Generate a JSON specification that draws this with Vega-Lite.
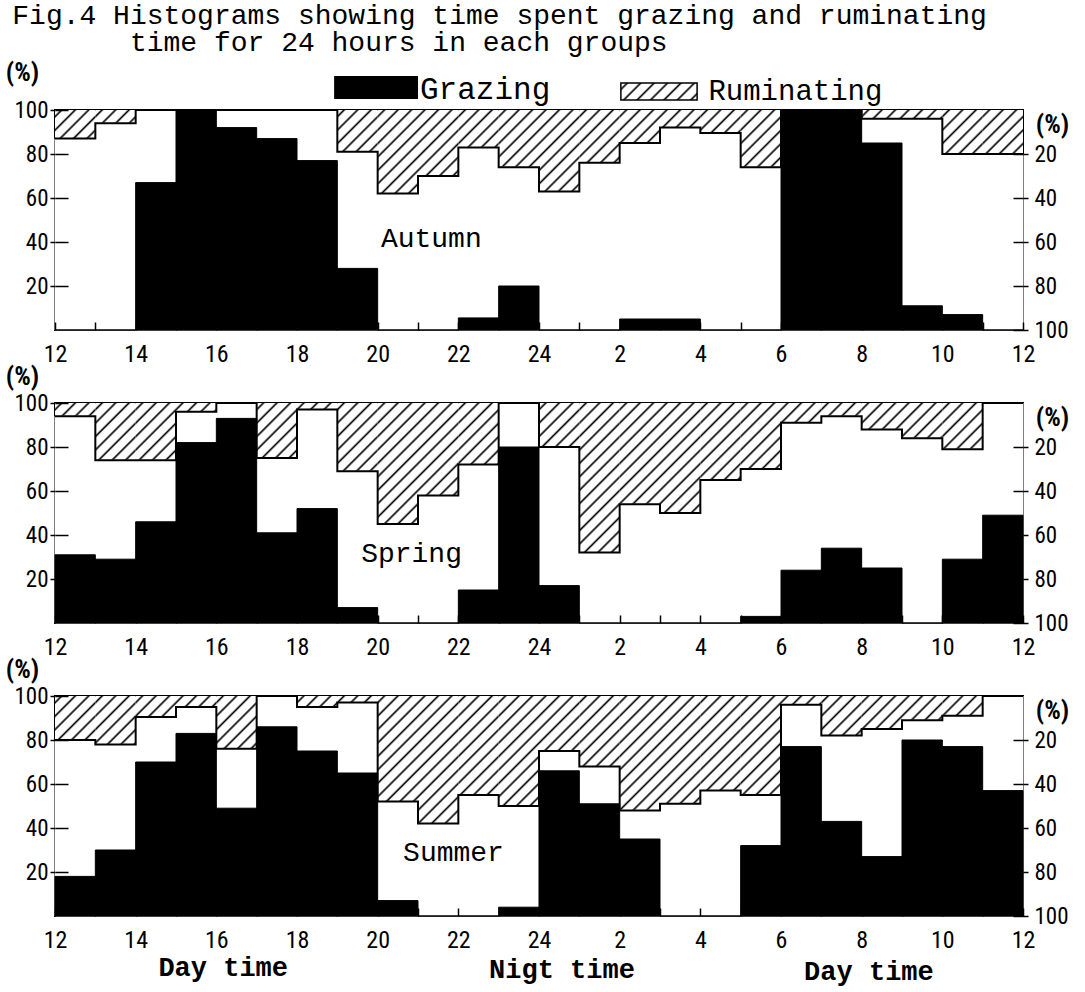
{
"$schema": "https://vega.github.io/schema/vega-lite/v6.json",
"background": "white",
"padding": {"left": 4, "top": 2, "right": 4, "bottom": 0},
"bounds": "flush",
"spacing": 73,
"title": {"text": ["Fig.4 Histograms showing time spent grazing and ruminating", "\u200b\u00a0\u00a0\u00a0\u00a0\u00a0\u00a0\u00a0time for 24 hours in each groups"], "anchor": "start", "frame": "bounds", "font": "Liberation Mono, DejaVu Sans Mono, monospace", "fontSize": 28, "fontWeight": "normal", "color": "black", "lineHeight": 27, "offset": 1, "dx": 8},
"config": {"view": {"stroke": "black", "strokeWidth": 2}},
"data": {"values": [
{"s":"Autumn","h":0,"e":1,"g":0,"r":13},{"s":"Autumn","h":1,"e":2,"g":0,"r":6},{"s":"Autumn","h":2,"e":3,"g":67,"r":0},{"s":"Autumn","h":3,"e":4,"g":100,"r":0},
{"s":"Autumn","h":4,"e":5,"g":92,"r":0},{"s":"Autumn","h":5,"e":6,"g":87,"r":0},{"s":"Autumn","h":6,"e":7,"g":77,"r":0},{"s":"Autumn","h":7,"e":8,"g":28,"r":19},
{"s":"Autumn","h":8,"e":9,"g":0,"r":38},{"s":"Autumn","h":9,"e":10,"g":0,"r":30},{"s":"Autumn","h":10,"e":11,"g":5.5,"r":17},{"s":"Autumn","h":11,"e":12,"g":20,"r":26},
{"s":"Autumn","h":12,"e":13,"g":0,"r":37},{"s":"Autumn","h":13,"e":14,"g":0,"r":24},{"s":"Autumn","h":14,"e":15,"g":5,"r":15},{"s":"Autumn","h":15,"e":16,"g":5,"r":8},
{"s":"Autumn","h":16,"e":17,"g":0,"r":10.5},{"s":"Autumn","h":17,"e":18,"g":0,"r":26},{"s":"Autumn","h":18,"e":19,"g":100,"r":0},{"s":"Autumn","h":19,"e":20,"g":100,"r":0},
{"s":"Autumn","h":20,"e":21,"g":85,"r":4},{"s":"Autumn","h":21,"e":22,"g":11,"r":4},{"s":"Autumn","h":22,"e":23,"g":7,"r":20},{"s":"Autumn","h":23,"e":24,"g":0,"r":20},
{"s":"Autumn","h":24,"e":25,"g":0,"r":20},
{"s":"Spring","h":0,"e":1,"g":31,"r":6},{"s":"Spring","h":1,"e":2,"g":29,"r":26},{"s":"Spring","h":2,"e":3,"g":46,"r":26},{"s":"Spring","h":3,"e":4,"g":82,"r":4},
{"s":"Spring","h":4,"e":5,"g":93,"r":0},{"s":"Spring","h":5,"e":6,"g":41,"r":25},{"s":"Spring","h":6,"e":7,"g":52,"r":3},{"s":"Spring","h":7,"e":8,"g":7,"r":31},
{"s":"Spring","h":8,"e":9,"g":0,"r":55},{"s":"Spring","h":9,"e":10,"g":0,"r":42},{"s":"Spring","h":10,"e":11,"g":15,"r":28},{"s":"Spring","h":11,"e":12,"g":80,"r":0},
{"s":"Spring","h":12,"e":13,"g":17,"r":20},{"s":"Spring","h":13,"e":14,"g":0,"r":68},{"s":"Spring","h":14,"e":15,"g":0,"r":46},{"s":"Spring","h":15,"e":16,"g":0,"r":50},
{"s":"Spring","h":16,"e":17,"g":0,"r":35},{"s":"Spring","h":17,"e":18,"g":3,"r":30},{"s":"Spring","h":18,"e":19,"g":24,"r":9},{"s":"Spring","h":19,"e":20,"g":34,"r":6},
{"s":"Spring","h":20,"e":21,"g":25,"r":12},{"s":"Spring","h":21,"e":22,"g":0,"r":16},{"s":"Spring","h":22,"e":23,"g":29,"r":21},{"s":"Spring","h":23,"e":24,"g":49,"r":0},
{"s":"Spring","h":24,"e":25,"g":0,"r":0},
{"s":"Summer","h":0,"e":1,"g":18,"r":20},{"s":"Summer","h":1,"e":2,"g":30,"r":22},{"s":"Summer","h":2,"e":3,"g":70,"r":9.5},{"s":"Summer","h":3,"e":4,"g":83,"r":5},
{"s":"Summer","h":4,"e":5,"g":49,"r":24},{"s":"Summer","h":5,"e":6,"g":86,"r":0},{"s":"Summer","h":6,"e":7,"g":75,"r":5},{"s":"Summer","h":7,"e":8,"g":65,"r":3},
{"s":"Summer","h":8,"e":9,"g":7,"r":48},{"s":"Summer","h":9,"e":10,"g":0,"r":58},{"s":"Summer","h":10,"e":11,"g":0,"r":45},{"s":"Summer","h":11,"e":12,"g":4,"r":50},
{"s":"Summer","h":12,"e":13,"g":66,"r":25},{"s":"Summer","h":13,"e":14,"g":51,"r":32},{"s":"Summer","h":14,"e":15,"g":35,"r":52},{"s":"Summer","h":15,"e":16,"g":0,"r":49},
{"s":"Summer","h":16,"e":17,"g":0,"r":43},{"s":"Summer","h":17,"e":18,"g":32,"r":45},{"s":"Summer","h":18,"e":19,"g":77,"r":4},{"s":"Summer","h":19,"e":20,"g":43,"r":18},
{"s":"Summer","h":20,"e":21,"g":27,"r":15},{"s":"Summer","h":21,"e":22,"g":80,"r":11},{"s":"Summer","h":22,"e":23,"g":77,"r":9},{"s":"Summer","h":23,"e":24,"g":57,"r":0},
{"s":"Summer","h":24,"e":25,"g":0,"r":0}
]},
"vconcat": [
{
"width": 968, "height": 220,
"resolve": {"scale": {"y": "independent"}},
"layer": [
 {"transform": [{"filter": "datum.s == 'Autumn'"}],
  "layer": [
   {"transform": [{"filter": "datum.h < 24"}],
    "mark": {"type": "bar", "fill": {"gradient": "linear", "x1": 0, "y1": 0, "x2": 0.20989, "y2": 1.14486, "stops": [
{"offset":0.0168,"color":"#fff"},{"offset":0.0258,"color":"#000"},{"offset":0.0348,"color":"#fff"},
{"offset":0.0684,"color":"#fff"},{"offset":0.0774,"color":"#000"},{"offset":0.0864,"color":"#fff"},
{"offset":0.1201,"color":"#fff"},{"offset":0.1291,"color":"#000"},{"offset":0.1381,"color":"#fff"},
{"offset":0.1717,"color":"#fff"},{"offset":0.1807,"color":"#000"},{"offset":0.1897,"color":"#fff"},
{"offset":0.2234,"color":"#fff"},{"offset":0.2324,"color":"#000"},{"offset":0.2414,"color":"#fff"},
{"offset":0.2750,"color":"#fff"},{"offset":0.2840,"color":"#000"},{"offset":0.2930,"color":"#fff"},
{"offset":0.3267,"color":"#fff"},{"offset":0.3357,"color":"#000"},{"offset":0.3447,"color":"#fff"},
{"offset":0.3783,"color":"#fff"},{"offset":0.3873,"color":"#000"},{"offset":0.3963,"color":"#fff"},
{"offset":0.4299,"color":"#fff"},{"offset":0.4389,"color":"#000"},{"offset":0.4479,"color":"#fff"},
{"offset":0.4816,"color":"#fff"},{"offset":0.4906,"color":"#000"},{"offset":0.4996,"color":"#fff"},
{"offset":0.5332,"color":"#fff"},{"offset":0.5422,"color":"#000"},{"offset":0.5512,"color":"#fff"},
{"offset":0.5849,"color":"#fff"},{"offset":0.5939,"color":"#000"},{"offset":0.6029,"color":"#fff"},
{"offset":0.6365,"color":"#fff"},{"offset":0.6455,"color":"#000"},{"offset":0.6545,"color":"#fff"},
{"offset":0.6882,"color":"#fff"},{"offset":0.6972,"color":"#000"},{"offset":0.7062,"color":"#fff"},
{"offset":0.7398,"color":"#fff"},{"offset":0.7488,"color":"#000"},{"offset":0.7578,"color":"#fff"},
{"offset":0.7915,"color":"#fff"},{"offset":0.8005,"color":"#000"},{"offset":0.8095,"color":"#fff"},
{"offset":0.8431,"color":"#fff"},{"offset":0.8521,"color":"#000"},{"offset":0.8611,"color":"#fff"},
{"offset":0.8947,"color":"#fff"},{"offset":0.9037,"color":"#000"},{"offset":0.9127,"color":"#fff"},
{"offset":0.9464,"color":"#fff"},{"offset":0.9554,"color":"#000"},{"offset":0.9644,"color":"#fff"}]}},
    "encoding": {"x": {"field": "h", "type": "quantitative", "scale": {"domain": [0, 24], "nice": false, "zero": false}}, "x2": {"field": "e"},
     "y": {"datum": 0, "type": "quantitative", "scale": {"domain": [0, 100], "reverse": true, "nice": false}}, "y2": {"datum": 100}}},
   {"transform": [{"filter": "datum.h < 24"}],
    "mark": {"type": "bar", "fill": "white", "stroke": "white", "strokeWidth": 1},
    "encoding": {"x": {"field": "h", "type": "quantitative", "scale": {"domain": [0, 24], "nice": false, "zero": false}}, "x2": {"field": "e"},
     "y": {"field": "r", "type": "quantitative", "scale": {"domain": [0, 100], "reverse": true, "nice": false},
      "axis": {"orient": "right", "values": [20, 40, 60, 80, 100], "title": "(%)", "titleAngle": 0, "titleX": 29, "titleY": 14, "titleAlign": "center", "titleBaseline": "middle", "titleFont": "Liberation Sans Narrow, Roboto Condensed, DejaVu Sans Condensed, Liberation Sans, sans-serif", "titleFontSize": 26, "titleFontWeight": "bold", "titleColor": "black", "labelFont": "Liberation Sans Narrow, Roboto Condensed, DejaVu Sans Condensed, Liberation Sans, sans-serif", "labelFontSize": 23, "labelColor": "black", "labelPadding": 6, "tickSize": 5, "tickWidth": 1.5, "tickColor": "black", "grid": true, "gridDash": [10, 3000], "gridWidth": 1.5, "gridColor": "black", "domain": false, "zindex": 1}},
     "y2": {"datum": 100}}},
   {"mark": {"type": "line", "interpolate": "step-after", "stroke": "black", "strokeWidth": 2},
    "encoding": {"x": {"field": "h", "type": "quantitative", "scale": {"domain": [0, 24], "nice": false, "zero": false}},
     "y": {"field": "r", "type": "quantitative", "scale": {"domain": [0, 100], "reverse": true, "nice": false}}}}
  ]},
 {"layer": [
   {"transform": [{"filter": "datum.s == 'Autumn' && datum.h < 24"}],
    "mark": {"type": "bar", "fill": "black", "stroke": "black", "strokeWidth": 1},
    "encoding": {"x": {"field": "h", "type": "quantitative", "scale": {"domain": [0, 24], "nice": false, "zero": false},
      "axis": {"values": [0,1,2,3,4,5,6,7,8,9,10,11,12,13,14,15,16,17,18,19,20,21,22,23,24], "labelExpr": "datum.value % 2 == 1 ? '' : (datum.value == 12 ? '24' : '' + ((datum.value + 12) % 24))", "title": null, "ticks": false, "labelPadding": 12, "labelFlush": false, "labelOverlap": false, "labelBound": false, "labelFont": "Liberation Sans Narrow, Roboto Condensed, DejaVu Sans Condensed, Liberation Sans, sans-serif", "labelFontSize": 24, "labelColor": "black", "grid": true, "gridDash": [8, 3000], "gridWidth": 1.5, "gridColor": "black", "domain": false, "zindex": 1}},
     "x2": {"field": "e"},
     "y": {"field": "g", "type": "quantitative", "scale": {"domain": [0, 100], "nice": false},
      "axis": {"values": [20, 40, 60, 80, 100], "title": "(%)", "titleAngle": 0, "titleX": -33, "titleY": -38, "titleAlign": "center", "titleBaseline": "middle", "titleFont": "Liberation Sans Narrow, Roboto Condensed, DejaVu Sans Condensed, Liberation Sans, sans-serif", "titleFontSize": 26, "titleFontWeight": "bold", "titleColor": "black", "labelFont": "Liberation Sans Narrow, Roboto Condensed, DejaVu Sans Condensed, Liberation Sans, sans-serif", "labelFontSize": 23, "labelColor": "black", "labelPadding": 2, "tickSize": 5, "tickWidth": 1.5, "tickColor": "black", "grid": true, "gridDash": [13, 3000], "gridWidth": 1.5, "gridColor": "black", "domain": false, "zindex": 1}},
     "y2": {"datum": 0}}},
   {"data": {"values": [{}]}, "mark": {"type": "text", "text": "Autumn", "font": "Liberation Mono, DejaVu Sans Mono, monospace", "fontSize": 28, "align": "left", "baseline": "middle", "color": "black"},
    "encoding": {"x": {"datum": 8.08, "type": "quantitative", "scale": {"domain": [0, 24], "nice": false, "zero": false}}, "y": {"datum": 41.4, "type": "quantitative", "scale": {"domain": [0, 100], "nice": false}}}},
   {"data": {"values": [{}]}, "mark": {"type": "rect", "fill": "black"},
    "encoding": {"x": {"datum": 6.92, "type": "quantitative", "scale": {"domain": [0, 24], "nice": false, "zero": false}}, "x2": {"datum": 9.0}, "y": {"datum": 105, "type": "quantitative", "scale": {"domain": [0, 100], "nice": false}}, "y2": {"datum": 115.5}}},
   {"data": {"values": [{}]}, "mark": {"type": "rect", "stroke": "black", "strokeWidth": 1.5, "fill": {"gradient": "linear", "x1": 0, "y1": 0, "x2": 1.1664, "y2": 0.2633, "stops": [
{"offset":0.045,"color":"#fff"},{"offset":0.07,"color":"#000"},{"offset":0.095,"color":"#fff"},
{"offset":0.1885,"color":"#fff"},{"offset":0.2135,"color":"#000"},{"offset":0.2385,"color":"#fff"},
{"offset":0.332,"color":"#fff"},{"offset":0.357,"color":"#000"},{"offset":0.382,"color":"#fff"},
{"offset":0.4755,"color":"#fff"},{"offset":0.5005,"color":"#000"},{"offset":0.5255,"color":"#fff"},
{"offset":0.619,"color":"#fff"},{"offset":0.644,"color":"#000"},{"offset":0.669,"color":"#fff"},
{"offset":0.7625,"color":"#fff"},{"offset":0.7875,"color":"#000"},{"offset":0.8125,"color":"#fff"},
{"offset":0.906,"color":"#fff"},{"offset":0.931,"color":"#000"},{"offset":0.956,"color":"#fff"}]}},
    "encoding": {"x": {"datum": 14.03, "type": "quantitative", "scale": {"domain": [0, 24], "nice": false, "zero": false}}, "x2": {"datum": 15.92}, "y": {"datum": 104.5, "type": "quantitative", "scale": {"domain": [0, 100], "nice": false}}, "y2": {"datum": 112.3}}},
   {"data": {"values": [{}]}, "mark": {"type": "text", "text": "Grazing", "font": "Liberation Mono, DejaVu Sans Mono, monospace", "fontSize": 31, "align": "left", "baseline": "alphabetic", "color": "black"},
    "encoding": {"x": {"datum": 9.05, "type": "quantitative", "scale": {"domain": [0, 24], "nice": false, "zero": false}}, "y": {"datum": 105, "type": "quantitative", "scale": {"domain": [0, 100], "nice": false}}}},
   {"data": {"values": [{}]}, "mark": {"type": "text", "text": "Ruminating", "font": "Liberation Mono, DejaVu Sans Mono, monospace", "fontSize": 29, "align": "left", "baseline": "alphabetic", "color": "black"},
    "encoding": {"x": {"datum": 16.2, "type": "quantitative", "scale": {"domain": [0, 24], "nice": false, "zero": false}}, "y": {"datum": 104.5, "type": "quantitative", "scale": {"domain": [0, 100], "nice": false}}}}
 ]}
]
},
{
"width": 968, "height": 220,
"resolve": {"scale": {"y": "independent"}},
"layer": [
 {"transform": [{"filter": "datum.s == 'Spring'"}],
  "layer": [
   {"transform": [{"filter": "datum.h < 24"}],
    "mark": {"type": "bar", "fill": {"gradient": "linear", "x1": 0, "y1": 0, "x2": 0.20989, "y2": 1.14486, "stops": [
{"offset":0.0168,"color":"#fff"},{"offset":0.0258,"color":"#000"},{"offset":0.0348,"color":"#fff"},
{"offset":0.0684,"color":"#fff"},{"offset":0.0774,"color":"#000"},{"offset":0.0864,"color":"#fff"},
{"offset":0.1201,"color":"#fff"},{"offset":0.1291,"color":"#000"},{"offset":0.1381,"color":"#fff"},
{"offset":0.1717,"color":"#fff"},{"offset":0.1807,"color":"#000"},{"offset":0.1897,"color":"#fff"},
{"offset":0.2234,"color":"#fff"},{"offset":0.2324,"color":"#000"},{"offset":0.2414,"color":"#fff"},
{"offset":0.2750,"color":"#fff"},{"offset":0.2840,"color":"#000"},{"offset":0.2930,"color":"#fff"},
{"offset":0.3267,"color":"#fff"},{"offset":0.3357,"color":"#000"},{"offset":0.3447,"color":"#fff"},
{"offset":0.3783,"color":"#fff"},{"offset":0.3873,"color":"#000"},{"offset":0.3963,"color":"#fff"},
{"offset":0.4299,"color":"#fff"},{"offset":0.4389,"color":"#000"},{"offset":0.4479,"color":"#fff"},
{"offset":0.4816,"color":"#fff"},{"offset":0.4906,"color":"#000"},{"offset":0.4996,"color":"#fff"},
{"offset":0.5332,"color":"#fff"},{"offset":0.5422,"color":"#000"},{"offset":0.5512,"color":"#fff"},
{"offset":0.5849,"color":"#fff"},{"offset":0.5939,"color":"#000"},{"offset":0.6029,"color":"#fff"},
{"offset":0.6365,"color":"#fff"},{"offset":0.6455,"color":"#000"},{"offset":0.6545,"color":"#fff"},
{"offset":0.6882,"color":"#fff"},{"offset":0.6972,"color":"#000"},{"offset":0.7062,"color":"#fff"},
{"offset":0.7398,"color":"#fff"},{"offset":0.7488,"color":"#000"},{"offset":0.7578,"color":"#fff"},
{"offset":0.7915,"color":"#fff"},{"offset":0.8005,"color":"#000"},{"offset":0.8095,"color":"#fff"},
{"offset":0.8431,"color":"#fff"},{"offset":0.8521,"color":"#000"},{"offset":0.8611,"color":"#fff"},
{"offset":0.8947,"color":"#fff"},{"offset":0.9037,"color":"#000"},{"offset":0.9127,"color":"#fff"},
{"offset":0.9464,"color":"#fff"},{"offset":0.9554,"color":"#000"},{"offset":0.9644,"color":"#fff"}]}},
    "encoding": {"x": {"field": "h", "type": "quantitative", "scale": {"domain": [0, 24], "nice": false, "zero": false}}, "x2": {"field": "e"},
     "y": {"datum": 0, "type": "quantitative", "scale": {"domain": [0, 100], "reverse": true, "nice": false}}, "y2": {"datum": 100}}},
   {"transform": [{"filter": "datum.h < 24"}],
    "mark": {"type": "bar", "fill": "white", "stroke": "white", "strokeWidth": 1},
    "encoding": {"x": {"field": "h", "type": "quantitative", "scale": {"domain": [0, 24], "nice": false, "zero": false}}, "x2": {"field": "e"},
     "y": {"field": "r", "type": "quantitative", "scale": {"domain": [0, 100], "reverse": true, "nice": false},
      "axis": {"orient": "right", "values": [20, 40, 60, 80, 100], "title": "(%)", "titleAngle": 0, "titleX": 29, "titleY": 14, "titleAlign": "center", "titleBaseline": "middle", "titleFont": "Liberation Sans Narrow, Roboto Condensed, DejaVu Sans Condensed, Liberation Sans, sans-serif", "titleFontSize": 26, "titleFontWeight": "bold", "titleColor": "black", "labelFont": "Liberation Sans Narrow, Roboto Condensed, DejaVu Sans Condensed, Liberation Sans, sans-serif", "labelFontSize": 23, "labelColor": "black", "labelPadding": 6, "tickSize": 5, "tickWidth": 1.5, "tickColor": "black", "grid": true, "gridDash": [10, 3000], "gridWidth": 1.5, "gridColor": "black", "domain": false, "zindex": 1}},
     "y2": {"datum": 100}}},
   {"mark": {"type": "line", "interpolate": "step-after", "stroke": "black", "strokeWidth": 2},
    "encoding": {"x": {"field": "h", "type": "quantitative", "scale": {"domain": [0, 24], "nice": false, "zero": false}},
     "y": {"field": "r", "type": "quantitative", "scale": {"domain": [0, 100], "reverse": true, "nice": false}}}}
  ]},
 {"layer": [
   {"transform": [{"filter": "datum.s == 'Spring' && datum.h < 24"}],
    "mark": {"type": "bar", "fill": "black", "stroke": "black", "strokeWidth": 1},
    "encoding": {"x": {"field": "h", "type": "quantitative", "scale": {"domain": [0, 24], "nice": false, "zero": false},
      "axis": {"values": [0,1,2,3,4,5,6,7,8,9,10,11,12,13,14,15,16,17,18,19,20,21,22,23,24], "labelExpr": "datum.value % 2 == 1 ? '' : (datum.value == 12 ? '24' : '' + ((datum.value + 12) % 24))", "title": null, "ticks": false, "labelPadding": 12, "labelFlush": false, "labelOverlap": false, "labelBound": false, "labelFont": "Liberation Sans Narrow, Roboto Condensed, DejaVu Sans Condensed, Liberation Sans, sans-serif", "labelFontSize": 24, "labelColor": "black", "grid": true, "gridDash": [8, 3000], "gridWidth": 1.5, "gridColor": "black", "domain": false, "zindex": 1}},
     "x2": {"field": "e"},
     "y": {"field": "g", "type": "quantitative", "scale": {"domain": [0, 100], "nice": false},
      "axis": {"values": [20, 40, 60, 80, 100], "title": "(%)", "titleAngle": 0, "titleX": -33, "titleY": -27, "titleAlign": "center", "titleBaseline": "middle", "titleFont": "Liberation Sans Narrow, Roboto Condensed, DejaVu Sans Condensed, Liberation Sans, sans-serif", "titleFontSize": 26, "titleFontWeight": "bold", "titleColor": "black", "labelFont": "Liberation Sans Narrow, Roboto Condensed, DejaVu Sans Condensed, Liberation Sans, sans-serif", "labelFontSize": 23, "labelColor": "black", "labelPadding": 2, "tickSize": 5, "tickWidth": 1.5, "tickColor": "black", "grid": true, "gridDash": [13, 3000], "gridWidth": 1.5, "gridColor": "black", "domain": false, "zindex": 1}},
     "y2": {"datum": 0}}},
   {"data": {"values": [{}]}, "mark": {"type": "text", "text": "Spring", "font": "Liberation Mono, DejaVu Sans Mono, monospace", "fontSize": 28, "align": "left", "baseline": "middle", "color": "black"},
    "encoding": {"x": {"datum": 7.59, "type": "quantitative", "scale": {"domain": [0, 24], "nice": false, "zero": false}}, "y": {"datum": 31.4, "type": "quantitative", "scale": {"domain": [0, 100], "nice": false}}}}
 ]}
]
},
{
"width": 968, "height": 220,
"resolve": {"scale": {"y": "independent"}},
"layer": [
 {"transform": [{"filter": "datum.s == 'Summer'"}],
  "layer": [
   {"transform": [{"filter": "datum.h < 24"}],
    "mark": {"type": "bar", "fill": {"gradient": "linear", "x1": 0, "y1": 0, "x2": 0.20989, "y2": 1.14486, "stops": [
{"offset":0.0168,"color":"#fff"},{"offset":0.0258,"color":"#000"},{"offset":0.0348,"color":"#fff"},
{"offset":0.0684,"color":"#fff"},{"offset":0.0774,"color":"#000"},{"offset":0.0864,"color":"#fff"},
{"offset":0.1201,"color":"#fff"},{"offset":0.1291,"color":"#000"},{"offset":0.1381,"color":"#fff"},
{"offset":0.1717,"color":"#fff"},{"offset":0.1807,"color":"#000"},{"offset":0.1897,"color":"#fff"},
{"offset":0.2234,"color":"#fff"},{"offset":0.2324,"color":"#000"},{"offset":0.2414,"color":"#fff"},
{"offset":0.2750,"color":"#fff"},{"offset":0.2840,"color":"#000"},{"offset":0.2930,"color":"#fff"},
{"offset":0.3267,"color":"#fff"},{"offset":0.3357,"color":"#000"},{"offset":0.3447,"color":"#fff"},
{"offset":0.3783,"color":"#fff"},{"offset":0.3873,"color":"#000"},{"offset":0.3963,"color":"#fff"},
{"offset":0.4299,"color":"#fff"},{"offset":0.4389,"color":"#000"},{"offset":0.4479,"color":"#fff"},
{"offset":0.4816,"color":"#fff"},{"offset":0.4906,"color":"#000"},{"offset":0.4996,"color":"#fff"},
{"offset":0.5332,"color":"#fff"},{"offset":0.5422,"color":"#000"},{"offset":0.5512,"color":"#fff"},
{"offset":0.5849,"color":"#fff"},{"offset":0.5939,"color":"#000"},{"offset":0.6029,"color":"#fff"},
{"offset":0.6365,"color":"#fff"},{"offset":0.6455,"color":"#000"},{"offset":0.6545,"color":"#fff"},
{"offset":0.6882,"color":"#fff"},{"offset":0.6972,"color":"#000"},{"offset":0.7062,"color":"#fff"},
{"offset":0.7398,"color":"#fff"},{"offset":0.7488,"color":"#000"},{"offset":0.7578,"color":"#fff"},
{"offset":0.7915,"color":"#fff"},{"offset":0.8005,"color":"#000"},{"offset":0.8095,"color":"#fff"},
{"offset":0.8431,"color":"#fff"},{"offset":0.8521,"color":"#000"},{"offset":0.8611,"color":"#fff"},
{"offset":0.8947,"color":"#fff"},{"offset":0.9037,"color":"#000"},{"offset":0.9127,"color":"#fff"},
{"offset":0.9464,"color":"#fff"},{"offset":0.9554,"color":"#000"},{"offset":0.9644,"color":"#fff"}]}},
    "encoding": {"x": {"field": "h", "type": "quantitative", "scale": {"domain": [0, 24], "nice": false, "zero": false}}, "x2": {"field": "e"},
     "y": {"datum": 0, "type": "quantitative", "scale": {"domain": [0, 100], "reverse": true, "nice": false}}, "y2": {"datum": 100}}},
   {"transform": [{"filter": "datum.h < 24"}],
    "mark": {"type": "bar", "fill": "white", "stroke": "white", "strokeWidth": 1},
    "encoding": {"x": {"field": "h", "type": "quantitative", "scale": {"domain": [0, 24], "nice": false, "zero": false}}, "x2": {"field": "e"},
     "y": {"field": "r", "type": "quantitative", "scale": {"domain": [0, 100], "reverse": true, "nice": false},
      "axis": {"orient": "right", "values": [20, 40, 60, 80, 100], "title": "(%)", "titleAngle": 0, "titleX": 29, "titleY": 14, "titleAlign": "center", "titleBaseline": "middle", "titleFont": "Liberation Sans Narrow, Roboto Condensed, DejaVu Sans Condensed, Liberation Sans, sans-serif", "titleFontSize": 26, "titleFontWeight": "bold", "titleColor": "black", "labelFont": "Liberation Sans Narrow, Roboto Condensed, DejaVu Sans Condensed, Liberation Sans, sans-serif", "labelFontSize": 23, "labelColor": "black", "labelPadding": 6, "tickSize": 5, "tickWidth": 1.5, "tickColor": "black", "grid": true, "gridDash": [10, 3000], "gridWidth": 1.5, "gridColor": "black", "domain": false, "zindex": 1}},
     "y2": {"datum": 100}}},
   {"mark": {"type": "line", "interpolate": "step-after", "stroke": "black", "strokeWidth": 2},
    "encoding": {"x": {"field": "h", "type": "quantitative", "scale": {"domain": [0, 24], "nice": false, "zero": false}},
     "y": {"field": "r", "type": "quantitative", "scale": {"domain": [0, 100], "reverse": true, "nice": false}}}}
  ]},
 {"layer": [
   {"transform": [{"filter": "datum.s == 'Summer' && datum.h < 24"}],
    "mark": {"type": "bar", "fill": "black", "stroke": "black", "strokeWidth": 1},
    "encoding": {"x": {"field": "h", "type": "quantitative", "scale": {"domain": [0, 24], "nice": false, "zero": false},
      "axis": {"values": [0,1,2,3,4,5,6,7,8,9,10,11,12,13,14,15,16,17,18,19,20,21,22,23,24], "labelExpr": "datum.value % 2 == 1 ? '' : (datum.value == 12 ? '24' : '' + ((datum.value + 12) % 24))", "title": null, "ticks": false, "labelPadding": 12, "labelFlush": false, "labelOverlap": false, "labelBound": false, "labelFont": "Liberation Sans Narrow, Roboto Condensed, DejaVu Sans Condensed, Liberation Sans, sans-serif", "labelFontSize": 24, "labelColor": "black", "grid": true, "gridDash": [8, 3000], "gridWidth": 1.5, "gridColor": "black", "domain": false, "zindex": 1}},
     "x2": {"field": "e"},
     "y": {"field": "g", "type": "quantitative", "scale": {"domain": [0, 100], "nice": false},
      "axis": {"values": [20, 40, 60, 80, 100], "title": "(%)", "titleAngle": 0, "titleX": -33, "titleY": -27, "titleAlign": "center", "titleBaseline": "middle", "titleFont": "Liberation Sans Narrow, Roboto Condensed, DejaVu Sans Condensed, Liberation Sans, sans-serif", "titleFontSize": 26, "titleFontWeight": "bold", "titleColor": "black", "labelFont": "Liberation Sans Narrow, Roboto Condensed, DejaVu Sans Condensed, Liberation Sans, sans-serif", "labelFontSize": 23, "labelColor": "black", "labelPadding": 2, "tickSize": 5, "tickWidth": 1.5, "tickColor": "black", "grid": true, "gridDash": [13, 3000], "gridWidth": 1.5, "gridColor": "black", "domain": false, "zindex": 1}},
     "y2": {"datum": 0}}},
   {"data": {"values": [{}]}, "mark": {"type": "text", "text": "Summer", "font": "Liberation Mono, DejaVu Sans Mono, monospace", "fontSize": 28, "align": "left", "baseline": "middle", "color": "black"},
    "encoding": {"x": {"datum": 8.63, "type": "quantitative", "scale": {"domain": [0, 24], "nice": false, "zero": false}}, "y": {"datum": 28.6, "type": "quantitative", "scale": {"domain": [0, 100], "nice": false}}}},
   {"data": {"values": [{}]}, "mark": {"type": "text", "text": "Day time", "font": "Liberation Mono, DejaVu Sans Mono, monospace", "fontSize": 27, "fontWeight": "bold", "align": "center", "baseline": "middle", "color": "black"},
    "encoding": {"x": {"datum": 4.17, "type": "quantitative", "scale": {"domain": [0, 24], "nice": false, "zero": false}}, "y": {"datum": -23.5, "type": "quantitative", "scale": {"domain": [0, 100], "nice": false}}}},
   {"data": {"values": [{}]}, "mark": {"type": "text", "text": "Nigt time", "font": "Liberation Mono, DejaVu Sans Mono, monospace", "fontSize": 27, "fontWeight": "bold", "align": "center", "baseline": "middle", "color": "black"},
    "encoding": {"x": {"datum": 12.57, "type": "quantitative", "scale": {"domain": [0, 24], "nice": false, "zero": false}}, "y": {"datum": -24.5, "type": "quantitative", "scale": {"domain": [0, 100], "nice": false}}}},
   {"data": {"values": [{}]}, "mark": {"type": "text", "text": "Day time", "font": "Liberation Mono, DejaVu Sans Mono, monospace", "fontSize": 27, "fontWeight": "bold", "align": "center", "baseline": "middle", "color": "black"},
    "encoding": {"x": {"datum": 20.18, "type": "quantitative", "scale": {"domain": [0, 24], "nice": false, "zero": false}}, "y": {"datum": -25.5, "type": "quantitative", "scale": {"domain": [0, 100], "nice": false}}}}
 ]}
]
}
]
}
